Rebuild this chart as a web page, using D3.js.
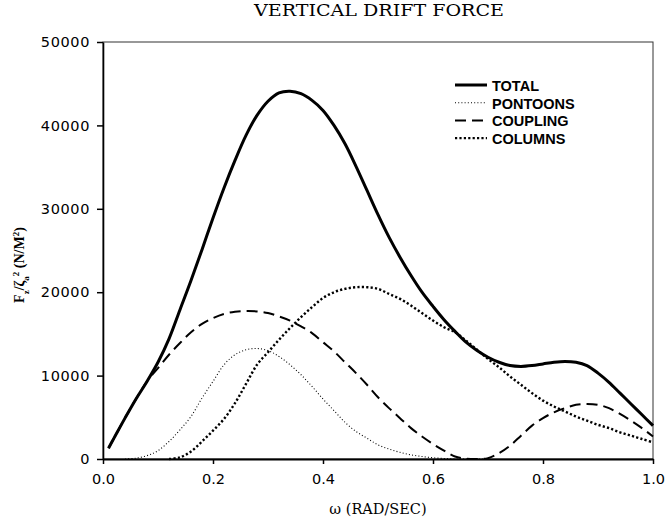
<!DOCTYPE html>
<html>
<head>
<meta charset="utf-8">
<script src="https://cdn.jsdelivr.net/npm/d3@7"></script>
<style>
body { margin: 0; background: #fff; }
</style>
</head>
<body>
<svg id="chart" width="667" height="523"></svg>
<script>
// omega grid (rad/sec)
var omega = [0.01, 0.02, 0.04, 0.06, 0.08, 0.10, 0.12, 0.14, 0.16, 0.18, 0.20,
  0.22, 0.24, 0.26, 0.28, 0.30, 0.32, 0.34, 0.36, 0.38, 0.40,
  0.42, 0.44, 0.46, 0.48, 0.50, 0.52, 0.54, 0.56, 0.58, 0.60,
  0.62, 0.64, 0.66, 0.68, 0.70, 0.72, 0.74, 0.76, 0.78, 0.80,
  0.82, 0.84, 0.86, 0.88, 0.90, 0.92, 0.94, 0.96, 0.98, 1.00];

var total = [1300, 2500, 4900, 7200, 9300, 11600, 14400, 17900, 21400, 25100, 28900,
  32500, 35800, 38800, 41200, 42900, 43900, 44100, 43800, 43000, 41800,
  40000, 37800, 35100, 32200, 29300, 26600, 24200, 22000, 20000, 18300,
  16700, 15300, 14000, 13000, 12200, 11600, 11200, 11100, 11200, 11400,
  11600, 11700, 11600, 11200, 10300, 9200, 7900, 6600, 5300, 4000];

var pontoons = [null, null, 0, 100, 400, 1000, 2100, 3500, 5100, 7300, 9300,
  11300, 12500, 13100, 13250, 13000, 12300, 11300, 10100, 8700, 7200,
  5800, 4400, 3300, 2500, 1700, 1200, 800, 500, 300, 150,
  60, 0, 0, 0, 0, null, null, null, null, null,
  null, null, null, null, null, null, null, null, null, null];

var coupling = [1300, 2500, 4900, 7200, 9300, 10900, 12500, 13900, 15200, 16200, 16900,
  17400, 17650, 17750, 17700, 17500, 17100, 16600, 15900, 15100, 14000,
  12900, 11600, 10300, 8900, 7400, 6100, 4900, 3700, 2700, 1800,
  1000, 300, 50, 0, 100, 700, 1600, 2800, 4000, 4900,
  5600, 6100, 6500, 6600, 6500, 6100, 5400, 4600, 3700, 2700];

var columns = [null, null, null, null, null, null, 0, 200, 900, 2100, 3400,
  4800, 6700, 9000, 11300, 12800, 14300, 15700, 17000, 18200, 19300,
  20000, 20400, 20600, 20600, 20400, 19800, 19200, 18400, 17500, 16600,
  15800, 15200, 14200, 13100, 12000, 11000, 9900, 8900, 7900, 7000,
  6300, 5700, 5100, 4600, 4100, 3700, 3200, 2800, 2400, 2000];

var seriesNames = ["TOTAL", "PONTOONS", "COUPLING", "COLUMNS"];
var xTicks = [0, 0.2, 0.4, 0.6, 0.8, 1.0];
var yTicks = [0, 10000, 20000, 30000, 40000, 50000];

var svg = d3.select("#chart");

var x = d3.scaleLinear().domain([0, 1]).range([103, 653]);
var y = d3.scaleLinear().domain([0, 50000]).range([459, 42]);

var styles = {
  "TOTAL":    {w: 3,   dash: null},
  "PONTOONS": {w: 1.1, dash: "1,2.2"},
  "COUPLING": {w: 2,   dash: "11,6"},
  "COLUMNS":  {w: 2.4, dash: "2.2,2.2"}
};
var values = {"TOTAL": total, "PONTOONS": pontoons, "COUPLING": coupling, "COLUMNS": columns};

// frame
svg.append("rect")
  .attr("x", x(0)).attr("y", y(50000))
  .attr("width", x(1) - x(0)).attr("height", y(0) - y(50000))
  .attr("fill", "none").attr("stroke", "#333").attr("stroke-width", 1);

// axes
var xAxis = svg.append("g")
  .attr("transform", "translate(0," + y(0) + ")")
  .call(d3.axisBottom(x).tickValues(xTicks).tickFormat(d3.format(".1f"))
    .tickSizeInner(5).tickSizeOuter(0).tickPadding(10));
xAxis.select(".domain").attr("stroke-width", 2.2);

var yAxis = svg.append("g")
  .attr("transform", "translate(" + x(0) + ",0)")
  .call(d3.axisLeft(y).tickValues(yTicks).tickFormat(d3.format("d"))
    .tickSizeInner(6).tickSizeOuter(0).tickPadding(7));
yAxis.select(".domain").attr("stroke-width", 1.6);

svg.selectAll(".tick line").attr("stroke-width", 1.5);
svg.selectAll(".tick text")
  .style("font-family", "DejaVu Sans")
  .style("font-size", "14.5px")
  .attr("fill", "#000");
yAxis.selectAll(".tick text").style("letter-spacing", "0.6px");

// curves
var line = d3.line()
  .defined(function(d) { return d[1] != null; })
  .x(function(d) { return x(d[0]); })
  .y(function(d) { return y(d[1]); })
  .curve(d3.curveCatmullRom.alpha(0.5));

seriesNames.forEach(function(name) {
  var pts = omega.map(function(w, i) { return [w, values[name][i]]; });
  svg.append("path")
    .attr("d", line(pts))
    .attr("fill", "none")
    .attr("stroke", "#000")
    .attr("stroke-width", styles[name].w)
    .attr("stroke-dasharray", styles[name].dash);
});

// legend
var legend = svg.append("g").attr("transform", "translate(455,85)");
seriesNames.forEach(function(name, i) {
  legend.append("line")
    .attr("x1", 0).attr("x2", 32)
    .attr("y1", i * 17.7).attr("y2", i * 17.7)
    .attr("stroke", "#000")
    .attr("stroke-width", styles[name].w)
    .attr("stroke-dasharray", styles[name].dash);
  legend.append("text")
    .attr("x", 37).attr("y", i * 17.7 + 6)
    .text(name)
    .style("font-family", "Liberation Sans")
    .style("font-weight", "bold")
    .style("font-size", "14.5px");
});

// title
svg.append("text")
  .attr("x", 379).attr("y", 16)
  .attr("text-anchor", "middle")
  .attr("textLength", 250)
  .attr("lengthAdjust", "spacingAndGlyphs")
  .text("VERTICAL DRIFT FORCE")
  .style("font-family", "DejaVu Serif")
  .style("font-size", "16px");

// x label
svg.append("text")
  .attr("x", 378).attr("y", 514)
  .attr("text-anchor", "middle")
  .text("\u03c9 (RAD/SEC)")
  .style("font-family", "DejaVu Serif")
  .style("font-size", "14.5px");

// y label
var yl = svg.append("text")
  .attr("transform", "translate(24,265) rotate(-90)")
  .attr("text-anchor", "middle")
  .style("font-family", "Liberation Serif")
  .style("font-weight", "bold")
  .style("font-size", "14px");
yl.append("tspan").text("F");
yl.append("tspan").attr("baseline-shift", "sub").style("font-size", "9px").text("z");
yl.append("tspan").text("/\u03b6");
yl.append("tspan").attr("baseline-shift", "sub").style("font-size", "9px").text("a");
yl.append("tspan").attr("baseline-shift", "super").style("font-size", "9px").text("2");
yl.append("tspan").text(" (N/M");
yl.append("tspan").attr("baseline-shift", "super").style("font-size", "9px").text("2");
yl.append("tspan").text(")");
</script>
</body>
</html>
